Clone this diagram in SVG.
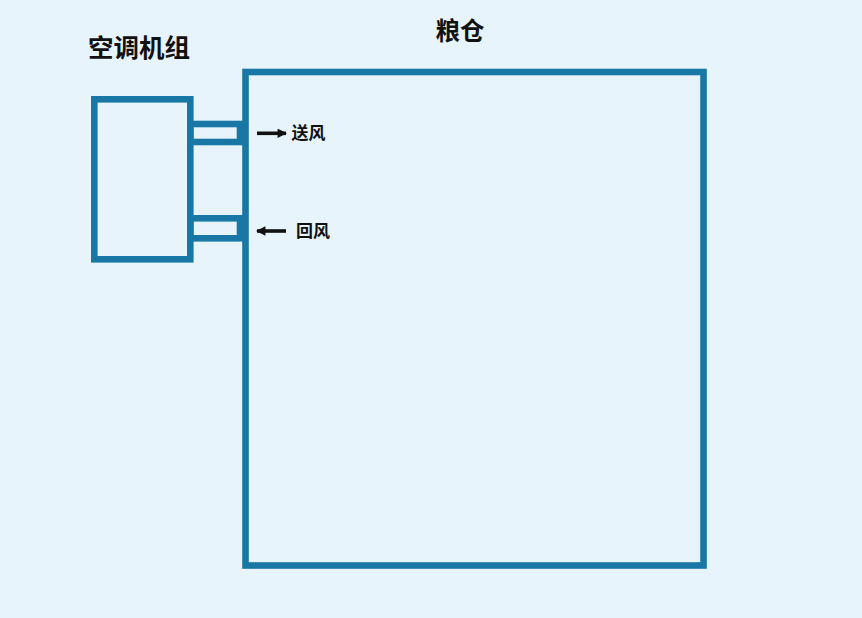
<svg xmlns="http://www.w3.org/2000/svg" width="862" height="618" viewBox="0 0 862 618">
<defs>
<style>
.box{fill:none;stroke:#1877a5;stroke-width:6.6}
.t{font-family:"Noto Sans CJK SC","Noto Sans",sans-serif;font-weight:bold;fill:#111}
.arr{stroke:#111;stroke-width:3.6;fill:none}
</style>
<marker id="ah" viewBox="0 0 10 10" refX="9" refY="5" markerWidth="3" markerHeight="2.6" orient="auto" markerUnits="strokeWidth">
<path d="M0,0 L10,5 L0,10 z" fill="#111"/>
</marker>
</defs>
<rect width="862" height="618" fill="#e8f4fc"/>
<g id="granary">
<rect class="box" x="245.5" y="72" width="458" height="493.5"/>
<text class="t" x="460" y="40" font-size="24.5" text-anchor="middle">粮仓</text>
</g>
<g id="ac-unit">
<rect class="box" x="94.3" y="99.3" width="96" height="160"/>
<text class="t" x="139" y="57" font-size="25.5" text-anchor="middle">空调机组</text>
</g>
<g id="supply-duct">
<rect class="box" x="190.3" y="124" width="49.7" height="18"/>
</g>
<g id="return-duct">
<rect class="box" x="190.3" y="218.3" width="49.7" height="20"/>
</g>
<g id="connectors">
<line class="arr" x1="257" y1="133.3" x2="286" y2="133.3" marker-end="url(#ah)"/>
<line class="arr" x1="286" y1="231" x2="257" y2="231" marker-end="url(#ah)"/>
</g>
<g id="labels">
<text class="t" x="291.5" y="139.3" font-size="17">送风</text>
<text class="t" x="296" y="237.3" font-size="17">回风</text>
</g>
</svg>
